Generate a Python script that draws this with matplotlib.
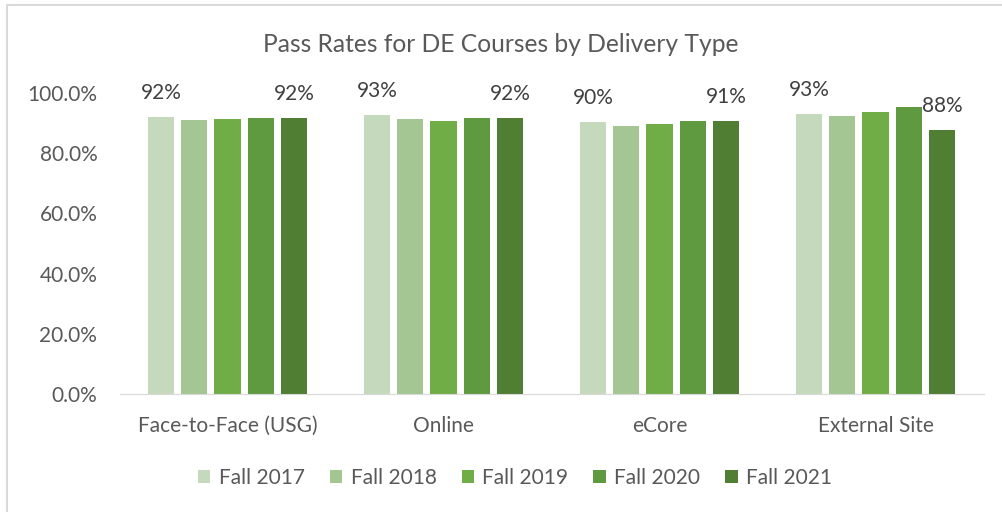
import numpy as np
import matplotlib.pyplot as plt
from matplotlib.lines import Line2D

plt.rcParams['font.family'] = ['Lato', 'DejaVu Sans']

categories = ['Face-to-Face (USG)', 'Online', 'eCore', 'External Site']
terms = ['Fall 2017', 'Fall 2018', 'Fall 2019', 'Fall 2020', 'Fall 2021']
pass_rates = {
    'Fall 2017': [0.919, 0.927, 0.903, 0.929],
    'Fall 2018': [0.911, 0.915, 0.892, 0.925],
    'Fall 2019': [0.915, 0.906, 0.898, 0.936],
    'Fall 2020': [0.918, 0.918, 0.908, 0.955],
    'Fall 2021': [0.916, 0.916, 0.906, 0.876],
}
colors = ['#C5D9BC', '#A3C692', '#70AD47', '#5F9940', '#507E32']
text_color = '#595959'

W, H = 1002, 512
fig = plt.figure(figsize=(W / 100, H / 100), dpi=100)
ax = fig.add_axes([119.5 / W, 1 - 394 / H, 864 / W, 301 / H])

x = np.arange(len(categories))
pitch = 0.154
width = 0.122
for i, term in enumerate(terms):
    pos = x + (i - 2) * pitch
    vals = pass_rates[term]
    ax.bar(pos, vals, width, color=colors[i], label=term, zorder=2)
    if i in (0, len(terms) - 1):
        for px, v in zip(pos, vals):
            ax.text(px, v + 0.08, f'{v:.0%}', ha='center', va='center',
                    fontsize=15, color='#404040', clip_on=False)

ax.set_xlim(-0.5, len(categories) - 0.5)
ax.set_ylim(0, 1.0)
yt = np.arange(0, 1.01, 0.2)
ax.set_yticks(yt)
ax.set_yticklabels([f'{t * 100:.1f}%' for t in yt])
ax.set_xticks(x)
ax.set_xticklabels(categories)
ax.tick_params(axis='both', length=0, labelsize=15, labelcolor=text_color)
ax.tick_params(axis='x', pad=16)
ax.tick_params(axis='y', pad=16)
for side in ['top', 'right', 'left']:
    ax.spines[side].set_visible(False)
ax.spines['bottom'].set_color('#D9D9D9')

fig.text(0.5, 1 - 45 / H, 'Pass Rates for DE Courses by Delivery Type',
         ha='center', va='center', fontsize=17.7, color=text_color)

fig.legend(loc='center', bbox_to_anchor=(515 / W, 1 - 478 / H), ncol=5,
           frameon=False, fontsize=15, handlelength=0.6, handleheight=0.6,
           handletextpad=0.4, columnspacing=1.2, labelcolor=text_color)

# outer frame: only top and left edges visible
fig.add_artist(Line2D([7 / W, 7 / W, 1.0], [0.0, 1 - 5 / H, 1 - 5 / H],
                      transform=fig.transFigure, color='#D9D9D9', linewidth=1.5))

fig.savefig('out.png', dpi=100)
